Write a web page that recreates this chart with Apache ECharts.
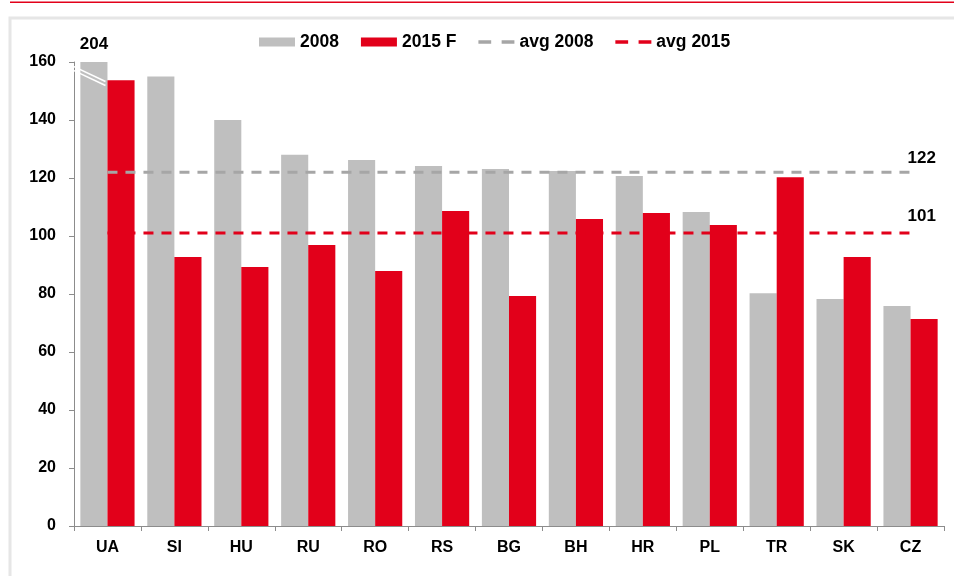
<!DOCTYPE html>
<html>
<head>
<meta charset="utf-8">
<script src="https://cdn.jsdelivr.net/npm/echarts@6/dist/echarts.min.js"></script>
<style>
  html, body { margin: 0; padding: 0; background: #fff; }
  #main { width: 954px; height: 576px; }
</style>
</head>
<body>
<div id="main"></div>
<script>
// data
var categories = ['UA', 'SI', 'HU', 'RU', 'RO', 'RS', 'BG', 'BH', 'HR', 'PL', 'TR', 'SK', 'CZ'];
var values2008 = [204, 155, 140, 128, 126.2, 124.1, 123.1, 122.4, 120.7, 108.3, 80.3, 78.3, 75.9];
var values2015 = [153.7, 92.8, 89.3, 96.9, 87.9, 108.6, 79.3, 105.9, 107.9, 103.8, 120.3, 92.8, 71.4];
var avg2008 = 122;
var avg2015 = 101;
var yTicks = { min: 0, max: 160, interval: 20 };

var GRAY = '#bfbfbf';
var RED = '#e2001a';
var FONT = 'Liberation Sans, Arial, sans-serif';
var DASH_ICON = 'path://M0,0h11v3h-11z M20,0h11v3h-11z';

var chart = echarts.init(document.getElementById('main'));

// 2008 bars are cut at the axis top (axis break), real value shown as label
var bars2008 = values2008.map(function (v) {
  if (v > yTicks.max) {
    return {
      value: yTicks.max,
      label: { show: true, position: 'top', distance: 9, formatter: String(v),
        fontFamily: FONT, fontWeight: 'bold', fontSize: 17, color: '#000' }
    };
  }
  return v;
});

var option = {
  backgroundColor: '#fff',
  animation: false,
  textStyle: { fontFamily: FONT },
  grid: { left: 74, right: 10, top: 62, bottom: 50 },
  legend: {
    top: 33,
    left: 259,
    padding: 0,
    itemWidth: 36,
    itemHeight: 9,
    itemGap: 22,
    textStyle: { fontFamily: FONT, fontWeight: 'bold', fontSize: 17.5, color: '#000' },
    data: [
      { name: '2008', icon: 'rect' },
      { name: '2015 F', icon: 'rect' },
      { name: 'avg 2008', icon: DASH_ICON },
      { name: 'avg 2015', icon: DASH_ICON }
    ]
  },
  xAxis: {
    type: 'category',
    data: categories,
    axisLine: { lineStyle: { color: '#8c8c8c', width: 1 } },
    axisTick: { show: true, length: 5, lineStyle: { color: '#8c8c8c' } },
    axisLabel: { fontFamily: FONT, fontWeight: 'bold', fontSize: 16, color: '#000', margin: 14 }
  },
  yAxis: {
    type: 'value',
    min: yTicks.min,
    max: yTicks.max,
    interval: yTicks.interval,
    axisLine: { show: true, lineStyle: { color: '#8c8c8c', width: 1 } },
    axisTick: { show: true, length: 5, lineStyle: { color: '#8c8c8c' } },
    axisLabel: { fontFamily: FONT, fontWeight: 'bold', fontSize: 16, color: '#000', margin: 18 },
    splitLine: { show: false }
  },
  series: [
    {
      name: '2008',
      type: 'bar',
      data: bars2008,
      barGap: '0%',
      barCategoryGap: '19%',
      itemStyle: { color: GRAY }
    },
    {
      name: '2015 F',
      type: 'bar',
      data: values2015,
      itemStyle: { color: RED }
    },
    {
      name: 'avg 2008',
      type: 'line',
      data: categories.map(function () { return avg2008; }),
      symbol: 'none',
      z: 5,
      lineStyle: { color: '#a6a6a6', width: 3, type: [10, 8] },
      itemStyle: { color: '#a6a6a6' },
      endLabel: { show: true, formatter: String(avg2008), distance: 0, offset: [-3, -14],
        fontFamily: FONT, fontWeight: 'bold', fontSize: 17, color: '#000' }
    },
    {
      name: 'avg 2015',
      type: 'line',
      data: categories.map(function () { return avg2015; }),
      symbol: 'none',
      z: 5,
      lineStyle: { color: RED, width: 3, type: [10, 8] },
      itemStyle: { color: RED },
      endLabel: { show: true, formatter: String(avg2015), distance: 0, offset: [-3, -17],
        fontFamily: FONT, fontWeight: 'bold', fontSize: 17, color: '#000' }
    }
  ]
};

chart.setOption(option);

// frame, top red rule and the axis-break marks on the cut bar
var graphics = [
  { type: 'rect', z: -10, shape: { x: 10, y: 1.5, width: 944, height: 1.5 }, style: { fill: RED } },
  { type: 'rect', z: -10, shape: { x: 10, y: 18, width: 960, height: 600 },
    style: { fill: 'none', stroke: '#e6e6e6', lineWidth: 3 } }
];
var cut = values2008.findIndex(function (v) { return v > yTicks.max; });
if (cut >= 0) {
  var p1 = chart.convertToPixel({ gridIndex: 0 }, [cut, 158.5]);
  var p2 = chart.convertToPixel({ gridIndex: 0 }, [cut, 153.3]);
  var x0 = p1[0] - 34, x1 = p1[0] - 2;
  [0, 4].forEach(function (dy) {
    graphics.push({ type: 'line', z: 100,
      shape: { x1: x0, y1: p1[1] + dy, x2: x1, y2: p2[1] + dy },
      style: { stroke: '#fff', lineWidth: 1.6 } });
  });
}
chart.setOption({ graphic: graphics });
</script>
</body>
</html>
